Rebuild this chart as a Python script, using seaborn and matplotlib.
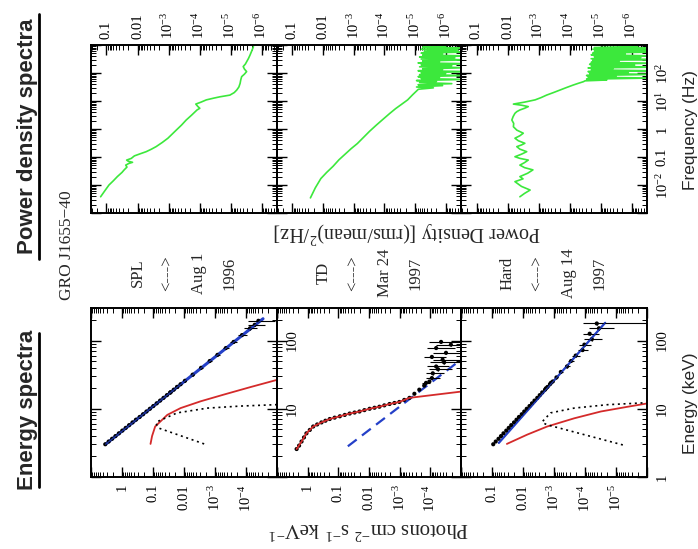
import numpy as np
import matplotlib
matplotlib.use("Agg")
import matplotlib.pyplot as plt
from matplotlib.lines import Line2D
from matplotlib.ticker import LogLocator, NullFormatter, FixedLocator, FuncFormatter
import seaborn as sns

# ------------------------------------------------------------------
# GRO J1655-40 energy spectra: log10(E / keV) and log10(photons cm^-2 s^-1 keV^-1)
# ------------------------------------------------------------------
# Steep power law state, Aug 1 1996
spl_pca_log_e = [0.48, 0.52, 0.56, 0.60, 0.64, 0.68, 0.72, 0.76, 0.80, 0.84, 0.88, 0.92,
                 0.96, 1.00, 1.04, 1.08, 1.12, 1.16, 1.20, 1.24, 1.28, 1.32, 1.36]
spl_pca_log_f = [0.54, 0.43, 0.32, 0.21, 0.10, -0.01, -0.12, -0.23, -0.34, -0.45, -0.57, -0.68,
                 -0.79, -0.90, -1.01, -1.12, -1.23, -1.34, -1.45, -1.56, -1.67, -1.78, -1.89]
spl_hxt_log_e = [1.24, 1.32, 1.41, 1.50, 1.60, 1.70, 1.79, 1.89, 1.98, 2.08, 2.18, 2.23, 2.29]
spl_hxt_log_f = [-1.56, -1.78, -2.03, -2.28, -2.55, -2.83, -3.08, -3.35, -3.60, -3.87, -4.13, -4.28, -4.40]
spl_hxt_log_lo = [-1.60, -1.82, -2.08, -2.33, -2.61, -2.90, -3.16, -3.45, -3.72, -4.02, -4.35, -4.60, -4.95]
spl_hxt_log_hi = [-1.52, -1.74, -1.98, -2.23, -2.50, -2.77, -3.01, -3.26, -3.49, -3.74, -3.95, -4.05, -4.08]
spl_total_log_e = [0.48, 2.32]
spl_total_log_f = [0.53, -4.55]
spl_disk_log_e = [0.485, 0.60, 0.74, 0.91, 1.01, 1.11, 1.21, 1.32, 1.42, 1.46]
spl_disk_log_f = [-0.92, -0.97, -1.07, -1.46, -1.89, -2.54, -3.30, -4.16, -4.97, -5.30]
spl_line_log_e = [0.485, 0.716, 0.78, 0.81, 0.94, 1.01, 1.04, 1.06, 1.07]
spl_line_log_f = [-2.65, -1.19, -1.10, -1.13, -1.78, -2.76, -3.84, -4.97, -5.30]

# Thermal dominant state, Mar 24 1997
td_pca_log_e = [0.41, 0.46, 0.52, 0.58, 0.64, 0.69, 0.74, 0.77, 0.80, 0.825, 0.85, 0.87, 0.89,
                0.91, 0.93, 0.945, 0.96, 0.98, 1.00, 1.015, 1.03, 1.05, 1.07, 1.085, 1.10,
                1.13, 1.16, 1.22, 1.28, 1.34, 1.40]
td_pca_log_f = [0.36, 0.28, 0.20, 0.12, 0.04, -0.07, -0.18, -0.31, -0.45, -0.58, -0.72, -0.88, -1.05,
                -1.21, -1.37, -1.53, -1.69, -1.85, -2.02, -2.18, -2.34, -2.50, -2.67, -2.83, -2.99,
                -3.15, -3.32, -3.48, -3.64, -3.80, -3.97]
td_hxt_log_e = [1.38, 1.45, 1.52, 1.58, 1.62, 1.68, 1.72, 1.76, 1.82, 1.89, 1.94, 1.98]
td_hxt_log_f = [-3.86, -4.05, -4.08, -4.25, -4.19, -4.45, -4.40, -4.05, -4.51, -4.19, -4.67, -4.35]
td_hxt_log_lo = [-4.00, -4.30, -4.45, -4.70, -4.60, -5.20, -5.00, -4.50, -5.50, -4.80, -5.50, -5.20]
td_hxt_log_hi = [-3.72, -3.85, -3.85, -3.95, -3.90, -4.00, -4.10, -3.80, -4.10, -3.90, -4.20, -3.95]
td_disk_log_e = [0.41, 0.52, 0.64, 0.74, 0.80, 0.85, 0.89, 0.93, 0.96, 1.00, 1.03, 1.07,
                 1.10, 1.16, 1.20, 1.25]
td_disk_log_f = [0.36, 0.20, 0.04, -0.18, -0.45, -0.72, -1.05, -1.37, -1.69, -2.02, -2.34, -2.67,
                 -2.99, -3.32, -4.05, -4.97]
td_pow_log_e = [0.45, 1.72]
td_pow_log_f = [-1.31, -5.00]

# Hard state, Aug 14 1997
hard_pca_log_e = [0.48, 0.52, 0.56, 0.60, 0.64, 0.68, 0.72, 0.76, 0.80, 0.84, 0.88, 0.92,
                  0.96, 1.00, 1.04, 1.08, 1.12, 1.16, 1.20, 1.24, 1.28, 1.32, 1.36, 1.40]
hard_pca_log_f = [-1.04, -1.12, -1.21, -1.29, -1.37, -1.46, -1.54, -1.62, -1.71, -1.79, -1.87, -1.96,
                  -2.04, -2.12, -2.21, -2.29, -2.37, -2.46, -2.54, -2.62, -2.71, -2.79, -2.87, -2.96]
hard_hxt_log_e = [1.30, 1.38, 1.46, 1.54, 1.62, 1.70, 1.78, 1.86, 1.94, 2.02, 2.10, 2.18, 2.25]
hard_hxt_log_f = [-2.74, -2.90, -3.08, -3.22, -3.42, -3.55, -3.70, -3.92, -3.98, -4.22, -4.15, -4.45, -4.38]
hard_hxt_log_lo = [-2.78, -2.95, -3.13, -3.29, -3.50, -3.65, -3.83, -4.10, -4.20, -4.55, -4.45, -4.95, -6.20]
hard_hxt_log_hi = [-2.70, -2.86, -3.03, -3.16, -3.35, -3.46, -3.59, -3.77, -3.80, -3.98, -3.92, -4.12, -3.94]
hard_total_log_e = [0.50, 2.26]
hard_total_log_f = [-1.22, -4.65]
hard_disk_log_e = [0.485, 0.62, 0.74, 0.86, 0.96, 1.03, 1.08, 1.10]
hard_disk_log_f = [-1.48, -2.13, -2.78, -3.65, -4.51, -5.38, -6.03, -6.30]
hard_line_log_e = [0.47, 0.765, 0.79, 0.81, 0.94, 1.01, 1.06, 1.09, 1.10]
hard_line_log_f = [-5.22, -2.78, -2.66, -2.62, -2.89, -3.65, -4.73, -6.03, -6.30]

# ------------------------------------------------------------------
# Power density spectra: log10(frequency / Hz), log10(power / (rms/mean)^2 Hz^-1)
# ------------------------------------------------------------------
spl_pds_log_nu = [-2.42, -2.20, -2.00, -1.85, -1.70, -1.55, -1.46, -1.36, -1.29, -1.23, -1.19, -1.15,
                  -1.11, -1.05, -0.96, -0.88, -0.81, -0.72, -0.63, -0.48, -0.33, -0.18, -0.04, 0.14,
                  0.32, 0.50, 0.68, 0.74, 0.80, 0.89, 0.96, 1.04, 1.10, 1.15, 1.21, 1.30, 1.39, 1.50,
                  1.63, 1.75, 1.87, 1.96, 2.05, 2.14, 2.23, 2.32, 2.40, 2.52, 2.64, 2.80, 2.94]
spl_pds_log_p = [-0.81, -0.95, -1.08, -1.22, -1.35, -1.50, -1.57, -1.66, -1.62, -1.72, -1.84, -1.70,
                 -1.65, -1.80, -1.90, -2.10, -2.28, -2.45, -2.60, -2.80, -2.98, -3.12, -3.25, -3.42,
                 -3.57, -3.75, -3.92, -4.01, -3.95, -3.88, -4.05, -4.22, -4.45, -4.66, -4.98, -5.12,
                 -5.20, -5.27, -5.31, -5.33, -5.36, -5.45, -5.52, -5.45, -5.41, -5.48, -5.52, -5.58,
                 -5.63, -5.69, -5.74]

td_pds_log_nu = [-2.46, -2.10, -1.77, -1.55, -1.33, -1.10, -0.90, -0.70, -0.52, -0.30, -0.08, 0.14,
                 0.36, 0.55, 0.73, 0.88, 1.04, 1.22, 1.42, 1.47, 1.50, 1.55, 1.58, 1.62, 1.66, 1.70,
                 1.73, 1.77, 1.80, 1.84, 1.87, 1.91, 1.94, 1.98, 2.01, 2.05, 2.08, 2.12, 2.15, 2.19,
                 2.22, 2.26, 2.29, 2.33, 2.36, 2.40, 2.43, 2.47, 2.50, 2.54, 2.57, 2.61, 2.64, 2.68,
                 2.71, 2.75, 2.78, 2.82, 2.85, 2.89, 2.92, 2.96]
td_pds_log_p = [-1.59, -1.75, -1.93, -2.12, -2.33, -2.52, -2.72, -2.92, -3.12, -3.32, -3.52, -3.74,
                -3.97, -4.17, -4.37, -4.56, -4.76, -4.92, -5.11, -5.60, -5.05, -5.90, -5.10, -6.20,
                -5.15, -5.70, -5.05, -6.60, -5.20, -5.80, -5.10, -6.70, -5.15, -6.00, -5.20, -6.80,
                -5.10, -5.90, -5.25, -6.70, -5.15, -6.20, -5.20, -6.80, -5.10, -5.80, -5.25, -6.70,
                -5.20, -6.30, -5.15, -6.80, -5.25, -5.90, -5.20, -6.70, -5.30, -6.40, -5.20, -6.80,
                -5.25, -6.00]

hard_pds_log_nu = [-2.42, -2.30, -2.18, -2.05, -1.88, -1.78, -1.70, -1.58, -1.46, -1.38, -1.29, -1.20,
                   -1.11, -1.05, -0.99, -0.90, -0.81, -0.72, -0.63, -0.57, -0.51, -0.42, -0.33, -0.24,
                   -0.15, -0.04, 0.08, 0.20, 0.32, 0.44, 0.56, 0.62, 0.68, 0.74, 0.80, 0.85, 0.89,
                   0.96, 1.04, 1.12, 1.21, 1.30, 1.39, 1.48, 1.57, 1.63, 1.69, 1.72, 1.75, 1.78, 1.82,
                   1.85, 1.88, 1.91, 1.95, 1.98, 2.01, 2.05, 2.08, 2.11, 2.15, 2.18, 2.21, 2.25, 2.28,
                   2.31, 2.35, 2.38, 2.41, 2.45, 2.48, 2.51, 2.55, 2.58, 2.61, 2.65, 2.68, 2.71, 2.75,
                   2.78, 2.81, 2.85, 2.88, 2.91, 2.95]
hard_pds_log_p = [-2.40, -2.55, -2.73, -2.45, -2.24, -2.50, -2.40, -2.65, -2.82, -2.55, -2.40, -2.55,
                  -2.67, -2.40, -2.24, -2.45, -2.62, -2.40, -2.30, -2.45, -2.56, -2.35, -2.24, -2.40,
                  -2.51, -2.30, -2.19, -2.20, -2.14, -2.18, -2.24, -2.30, -2.40, -2.55, -2.67, -2.45,
                  -2.19, -2.55, -2.89, -3.08, -3.26, -3.48, -3.69, -3.90, -4.12, -4.28, -4.45, -4.50,
                  -5.20, -4.55, -6.60, -4.60, -5.50, -4.55, -6.80, -4.65, -5.90, -4.60, -6.70, -4.70,
                  -5.40, -4.60, -6.80, -4.70, -6.10, -4.65, -6.80, -4.70, -5.60, -4.75, -6.80, -4.70,
                  -6.30, -4.80, -6.80, -4.70, -5.80, -4.75, -6.80, -4.80, -6.50, -4.75, -6.80, -4.80,
                  -6.20]

# Panel annotations
state_names = ["SPL", "TD", "Hard"]
state_dates = ["Aug 1", "Mar 24", "Aug 14"]
state_years = ["1996", "1997", "1997"]

flux_labelled = [[0, -1, -2, -3, -4], [0, -1, -2, -3, -4], [-1, -2, -3, -4, -5]]
flux_limits = [(1, -5), (1, -5), (0, -6)]
pds_labelled = [-1, -2, -3, -4, -5, -6]
nu_labelled = [-2, -1, 0, 1, 2]

# ------------------------------------------------------------------
sns.set_theme(style="ticks")
plt.rcParams["font.family"] = ["Liberation Serif", "DejaVu Serif"]
plt.rcParams["mathtext.fontset"] = "custom"
plt.rcParams["mathtext.rm"] = "Liberation Serif"
plt.rcParams["mathtext.it"] = "Liberation Serif:italic"
plt.rcParams["mathtext.bf"] = "Liberation Serif:bold"

W, H = 698, 549
fig = plt.figure(figsize=(W / 100, H / 100), dpi=100)
fig.patch.set_facecolor("white")


def fx(x):
    return x / W


def fy(y):
    return 1 - y / H


def px_axes(x0, y0, x1, y1):
    ax = fig.add_axes([fx(x0), fy(y1), (x1 - x0) / W, (y1 - y0) / H])
    ax.set_facecolor("none")
    return ax


def pw(a):
    return np.power(10.0, np.asarray(a, dtype=float))


RED = "#d42a2a"
BLUE = "#2440c8"
GREEN = "#3ce83c"
TICK_FS = 10.5

COLS = [(91, 277), (277, 461), (461, 647)]
EROW = (308, 477)
PROW = (45, 213)


def exp_label(e, names):
    if e in names:
        return names[e]
    return rf"$10^{{{e}}}$"


def frame(ax):
    for s in ax.spines.values():
        s.set_linewidth(1.4)
        s.set_color("black")
    ax.grid(False)
    ax.tick_params(which="both", direction="in", top=True, bottom=True, left=True, right=True,
                   colors="black", labelleft=False, labelright=False, labeltop=False,
                   labelbottom=False, labelsize=TICK_FS)
    ax.tick_params(which="major", length=7, width=1.0)
    ax.tick_params(which="minor", length=3.5, width=0.7)
    for axis in (ax.xaxis, ax.yaxis):
        axis.set_minor_locator(LogLocator(base=10, subs=np.arange(2, 10), numticks=60))
        axis.set_minor_formatter(NullFormatter())
        axis.set_major_locator(FixedLocator(pw(np.arange(-8, 5))))


def curve(ax, lx, ly, color, lw, dashes=None, z=2):
    sns.lineplot(x=pw(lx), y=pw(ly), ax=ax, color=color, lw=lw, sort=False,
                 estimator=None, legend=False, zorder=z)
    ln = ax.lines[-1]
    if dashes is not None:
        ln.set_dashes(dashes)
    return ln


flux_names = {0: "1", -1: "0.1", -2: "0.01"}
energy_names = {0: "1", 1: "10", 2: "100"}
nu_names = {-1: "0.1", 0: "1"}

spectra = [
    (spl_pca_log_e, spl_pca_log_f, spl_hxt_log_e, spl_hxt_log_f, spl_hxt_log_lo, spl_hxt_log_hi),
    (td_pca_log_e, td_pca_log_f, td_hxt_log_e, td_hxt_log_f, td_hxt_log_lo, td_hxt_log_hi),
    (hard_pca_log_e, hard_pca_log_f, hard_hxt_log_e, hard_hxt_log_f, hard_hxt_log_lo, hard_hxt_log_hi),
]
pds = [(spl_pds_log_nu, spl_pds_log_p), (td_pds_log_nu, td_pds_log_p), (hard_pds_log_nu, hard_pds_log_p)]

for i, (x0, x1) in enumerate(COLS):
    # ---------------- energy spectrum ----------------
    ax = px_axes(x0, EROW[0], x1, EROW[1])
    ax.set_xscale("log")
    ax.set_yscale("log")
    pca_e, pca_f, hxt_e, hxt_f, hxt_lo, hxt_hi = spectra[i]

    if i == 0:
        curve(ax, spl_total_log_f, spl_total_log_e, BLUE, 2.2, z=2)
        curve(ax, spl_disk_log_f, spl_disk_log_e, RED, 1.3)
        curve(ax, spl_line_log_f, spl_line_log_e, "black", 1.2, dashes=(1.2, 2.2))
    elif i == 1:
        curve(ax, td_pow_log_f, td_pow_log_e, BLUE, 1.6, dashes=(5, 3))
    else:
        curve(ax, hard_total_log_f, hard_total_log_e, BLUE, 1.6)
        curve(ax, hard_disk_log_f, hard_disk_log_e, RED, 1.3)
        curve(ax, hard_line_log_f, hard_line_log_e, "black", 1.2, dashes=(1.2, 2.2))

    f_h = pw(hxt_f)
    e_h = pw(hxt_e)
    ax.errorbar(f_h, e_h, xerr=[f_h - pw(hxt_lo), pw(hxt_hi) - f_h],
                yerr=[e_h - pw(np.asarray(hxt_e) - 0.02), pw(np.asarray(hxt_e) + 0.02) - e_h],
                fmt="none", ecolor="black", elinewidth=0.8, zorder=3)
    sns.scatterplot(x=np.concatenate([pw(pca_f), f_h]), y=np.concatenate([pw(pca_e), e_h]),
                    ax=ax, color="black", s=9, marker="o", edgecolor="none", legend=False, zorder=4)
    if i == 0:
        curve(ax, spl_total_log_f, spl_total_log_e, BLUE, 0.9, z=5).set_alpha(0.8)
    if i == 1:
        curve(ax, td_disk_log_f, td_disk_log_e, RED, 1.3, z=5)
    if i == 2:
        curve(ax, hard_total_log_f, hard_total_log_e, BLUE, 0.9, z=5).set_alpha(0.8)

    frame(ax)
    hi, lo = flux_limits[i]
    ax.set_xlim(10.0 ** hi, 10.0 ** lo)
    ax.set_ylim(1, 300)
    allowed = flux_labelled[i]
    ax.xaxis.set_major_formatter(FuncFormatter(
        lambda v, p, allowed=allowed: exp_label(int(round(np.log10(v))), flux_names)
        if int(round(np.log10(v))) in allowed else ""))
    ax.tick_params(axis="x", labelbottom=True, labelrotation=90, pad=5)
    if i in (0, 2):
        shown = [1, 2] if i == 0 else [0, 1, 2]
        ax.yaxis.set_major_formatter(FuncFormatter(
            lambda v, p, shown=shown: energy_names[int(round(np.log10(v)))]
            if int(round(np.log10(v))) in shown else ""))
        ax.tick_params(axis="y", labelright=True, labelrotation=90, pad=6)
        for lab in ax.get_yticklabels():
            lab.set_va("center")

    # ---------------- power density spectrum ----------------
    axp = px_axes(x0, PROW[0], x1, PROW[1])
    axp.set_xscale("log")
    axp.set_yscale("log")
    lnu, lp = pds[i]
    curve(axp, lp, lnu, GREEN, 1.2)
    frame(axp)
    axp.set_xlim(10 ** -0.5, 10 ** -6.5)
    axp.set_ylim(1e-3, 1e3)
    axp.xaxis.set_major_formatter(FuncFormatter(
        lambda v, p: exp_label(int(round(np.log10(v))), flux_names)
        if int(round(np.log10(v))) in pds_labelled else ""))
    axp.tick_params(axis="x", labeltop=True, labelbottom=False, labelrotation=90, pad=4)
    if i == 2:
        axp.yaxis.set_major_formatter(FuncFormatter(
            lambda v, p: exp_label(int(round(np.log10(v))), nu_names)
            if int(round(np.log10(v))) in nu_labelled else ""))
        axp.tick_params(axis="y", labelright=True, labelrotation=90, pad=6)
        for lab in axp.get_yticklabels():
            lab.set_va("center")

    # ---------------- state annotation ----------------
    for off, txt in zip((47, 77, 108, 138),
                        (state_names[i], "<--->", state_dates[i], state_years[i])):
        fig.text(fx(x0 + off), fy(273), txt, rotation=90, ha="center", va="center",
                 fontsize=12, family="Liberation Serif")

# ---------------- figure-level labels ----------------
fig.text(fx(67), fy(245), "GRO J1655\u221240", rotation=90, ha="center", va="center",
         fontsize=12.5, family="Liberation Serif")
fig.text(fx(407), fy(232), r"Power Density [(rms/mean)$^2$/Hz]", rotation=180,
         ha="center", va="center", fontsize=14.5, family="Liberation Serif")
fig.text(fx(369), fy(528), r"Photons cm$^{-2}$ s$^{-1}$ keV$^{-1}$", rotation=180,
         ha="center", va="center", fontsize=15, family="Liberation Serif")
fig.text(fx(690), fy(403), "Energy (keV)", rotation=90, ha="center", va="center",
         fontsize=12.5, family="Liberation Sans")
fig.text(fx(690), fy(130), "Frequency (Hz)", rotation=90, ha="center", va="center",
         fontsize=12.5, family="Liberation Sans")

for txt, yc, y0, y1 in (("Power density spectra", 136, 14, 259),
                        ("Energy spectra", 410, 333, 487)):
    fig.text(fx(28), fy(yc), txt, rotation=90, ha="center", va="center",
             fontsize=16, fontweight="bold", family="Liberation Sans")
    fig.add_artist(Line2D([fx(38.5), fx(38.5)], [fy(y0), fy(y1)], color="black", lw=2))

fig.savefig("out.png", dpi=100)
